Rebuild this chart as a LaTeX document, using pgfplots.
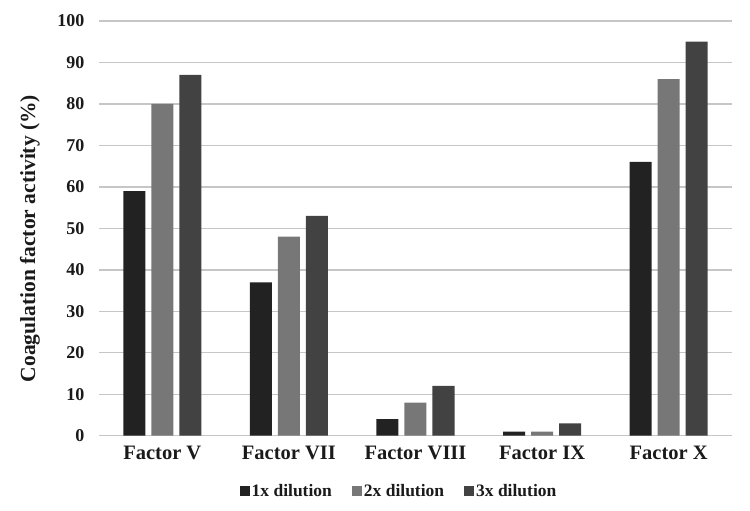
\documentclass[border=0pt]{standalone}
\usepackage{pgfplots}
\pgfplotsset{compat=1.18}
\usepackage{fontspec}
\setmainfont{Liberation Serif}
\definecolor{cA}{HTML}{222222}
\definecolor{cB}{HTML}{777777}
\definecolor{cC}{HTML}{424242}
\definecolor{gridc}{HTML}{C6C6C6}
\definecolor{txt}{HTML}{1A1A1A}
\begin{document}
\begin{tikzpicture}
\useasboundingbox (-99pt,-75.3pt) rectangle (651pt,435.7pt);
\begin{axis}[
  at={(0,0)}, anchor=south west,
  scale only axis, width=633pt, height=414.7pt,
  ybar=6pt, bar width=22pt,
  xmin=-0.5, xmax=4.5, ymin=0, ymax=100,
  xtick={0,1,2,3,4},
  xticklabels={Factor V, Factor VII, Factor VIII, Factor IX, Factor X},
  ytick={0,10,20,30,40,50,60,70,80,90,100},
  yticklabels={0,10,20,30,40,50,60,70,80,90,100},
  major tick length=0pt,
  axis line style={draw=none},
  ymajorgrids, grid style={gridc, line width=1.4pt},
  tick label style={font=\bfseries, text=txt},
  yticklabel style={font=\bfseries\fontsize{18}{18}\selectfont, xshift=-11pt},
  xticklabel style={font=\bfseries\fontsize{20.5}{20.5}\selectfont, yshift=-7pt},
  ylabel={Coagulation factor activity (\%)},
  ylabel style={font=\bfseries\fontsize{21.5}{21.5}\selectfont, text=txt, at={(axis description cs:-0.109,0.4755)}, anchor=center},
  legend columns=3,
  legend style={draw=none, fill=none, at={(axis description cs:0.474,-0.133)}, anchor=center,
    font=\bfseries\fontsize{17.5}{17.5}\selectfont, text=txt,
    /tikz/every even column/.append style={column sep=18pt}},
  legend image code/.code={\fill[#1] (0pt,-5pt) rectangle (10pt,5pt);},
]
\addplot[fill=cA, draw=none] coordinates {(0,59) (1,37) (2,4) (3,1) (4,66)};
\addplot[fill=cB, draw=none] coordinates {(0,80) (1,48) (2,8) (3,1) (4,86)};
\addplot[fill=cC, draw=none] coordinates {(0,87) (1,53) (2,12) (3,3) (4,95)};
\legend{1x dilution, 2x dilution, 3x dilution}
\end{axis}
\end{tikzpicture}
\end{document}
